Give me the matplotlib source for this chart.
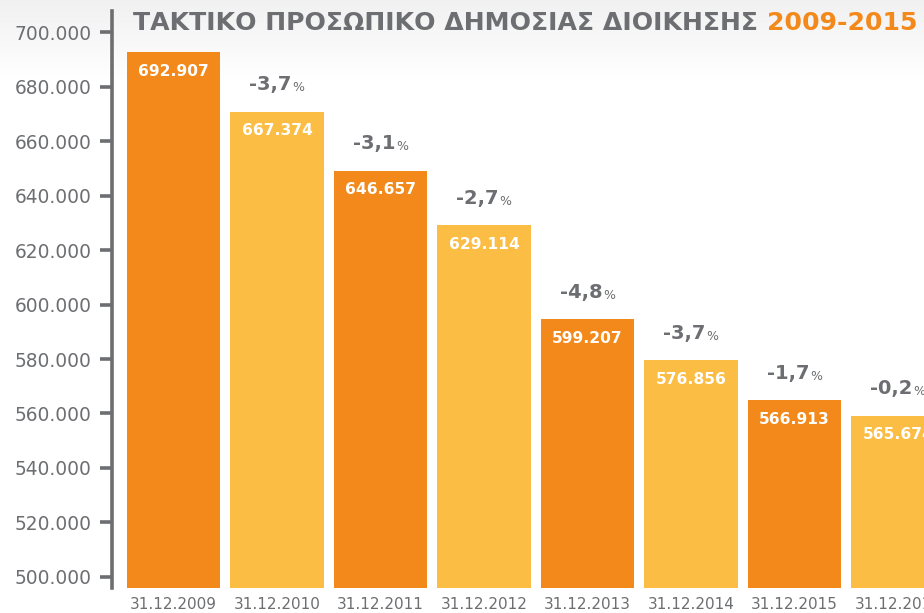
import matplotlib
matplotlib.use("Agg")
import matplotlib.pyplot as plt
import numpy as np

# ---- data ----
dates = ["31.12.2009", "31.12.2010", "31.12.2011", "31.12.2012",
         "31.12.2013", "31.12.2014", "31.12.2015", "31.12.2016"]
bar_heights = [692600, 670800, 649000, 629000, 594500, 579500, 564800, 559200]
value_labels = ["692.907", "667.374", "646.657", "629.114",
                "599.207", "576.856", "566.913", "565.674"]
pct_labels = [None, "-3,7", "-3,1", "-2,7", "-4,8", "-3,7", "-1,7", "-0,2"]
yticks = [500000, 520000, 540000, 560000, 580000, 600000,
          620000, 640000, 660000, 680000, 700000]
ytick_labels = ["500.000", "520.000", "540.000", "560.000", "580.000", "600.000",
                "620.000", "640.000", "660.000", "680.000", "700.000"]
title_main = "ΤΑΚΤΙΚΟ ΠΡΟΣΩΠΙΚΟ ΔΗΜΟΣΙΑΣ ΔΙΟΙΚΗΣΗΣ "
title_years = "2009-2015"

DARK = "#F3891A"
LIGHT = "#FBBD43"
GRAY = "#6D6E71"
FONT = ["DejaVu Sans"]

W, H = 924, 613
fig = plt.figure(figsize=(W / 100, H / 100), dpi=100)

# background gradient at the top
bg = fig.add_axes([0, 0, 1, 1], zorder=0)
bg.set_axis_off()
grad = np.ones((H, 1))
top_px = 80
for r in range(top_px):
    grad[r, 0] = 0.945 + (1 - 0.945) * (r / top_px)
bg.imshow(np.dstack([grad, grad, grad]), aspect="auto", extent=[0, 1, 0, 1])

# main axes
left_px, right_px = 112, 924
top_px_ax, bot_px = 11, 587.5
ax = fig.add_axes([left_px / W, (H - bot_px) / H, (right_px - left_px) / W,
                   (bot_px - top_px_ax) / H], zorder=1)
ax.patch.set_alpha(0)

x = np.arange(len(dates))
colors = [DARK if i % 2 == 0 else LIGHT for i in range(len(dates))]
ymin = 496140
ax.bar(x, np.array(bar_heights) - ymin, bottom=ymin, width=0.9, color=colors,
       edgecolor="none", zorder=2)

ax.set_xlim(-0.594, 7.251)
ax.set_ylim(ymin, 707720)

for s in ["top", "right", "bottom"]:
    ax.spines[s].set_visible(False)
ax.spines["left"].set_color(GRAY)
ax.spines["left"].set_linewidth(2.6)

ax.set_yticks(yticks)
ax.set_yticklabels(ytick_labels, fontsize=13.4, color=GRAY, family=FONT)
ax.tick_params(axis="y", direction="out", length=8.5, width=2.6, color=GRAY, pad=6)

ax.set_xticks(x)
ax.set_xticklabels(dates, fontsize=11, color=GRAY, family=FONT)
ax.tick_params(axis="x", length=0, pad=7)

# value labels inside bars
for i, (h, lab) in enumerate(zip(bar_heights, value_labels)):
    ax.annotate(lab, (x[i], h), xytext=(0, -19), textcoords="offset pixels",
                ha="center", va="center", color="white", fontsize=11.2,
                fontweight="bold", family=FONT, zorder=3, annotation_clip=False,
                clip_on=True)

# percentage labels above bars
fig.canvas.draw()
renderer = fig.canvas.get_renderer()
for i, (h, lab) in enumerate(zip(bar_heights, pct_labels)):
    if lab is None:
        continue
    t1 = ax.annotate(lab, (x[i], h), xytext=(0, 27), textcoords="offset pixels",
                     ha="right", va="center", color=GRAY, fontsize=14,
                     fontweight="bold", family=FONT, zorder=3)
    t2 = ax.annotate("%", (x[i], h), xytext=(0, 24), textcoords="offset pixels",
                     ha="left", va="center", color=GRAY, fontsize=9,
                     family=FONT, zorder=3)
    w1 = t1.get_window_extent(renderer).width
    w2 = t2.get_window_extent(renderer).width
    tot = w1 + w2 + 1
    t1.set_position((-tot / 2 + w1, 27))
    t2.set_position((-tot / 2 + w1 + 1, 24))

# title
tx, ty = 133 / W, 1 - 30 / H
t_a = fig.text(tx, ty, title_main, color=GRAY, fontsize=18.1, fontweight="bold",
               family=FONT, ha="left", va="baseline", zorder=5)
fig.canvas.draw()
bb = t_a.get_window_extent(renderer)
fig.text(bb.x1 / W, ty, title_years, color=DARK, fontsize=18.1, fontweight="bold",
         family=FONT, ha="left", va="baseline", zorder=5)

fig.savefig("out.png", dpi=100)
